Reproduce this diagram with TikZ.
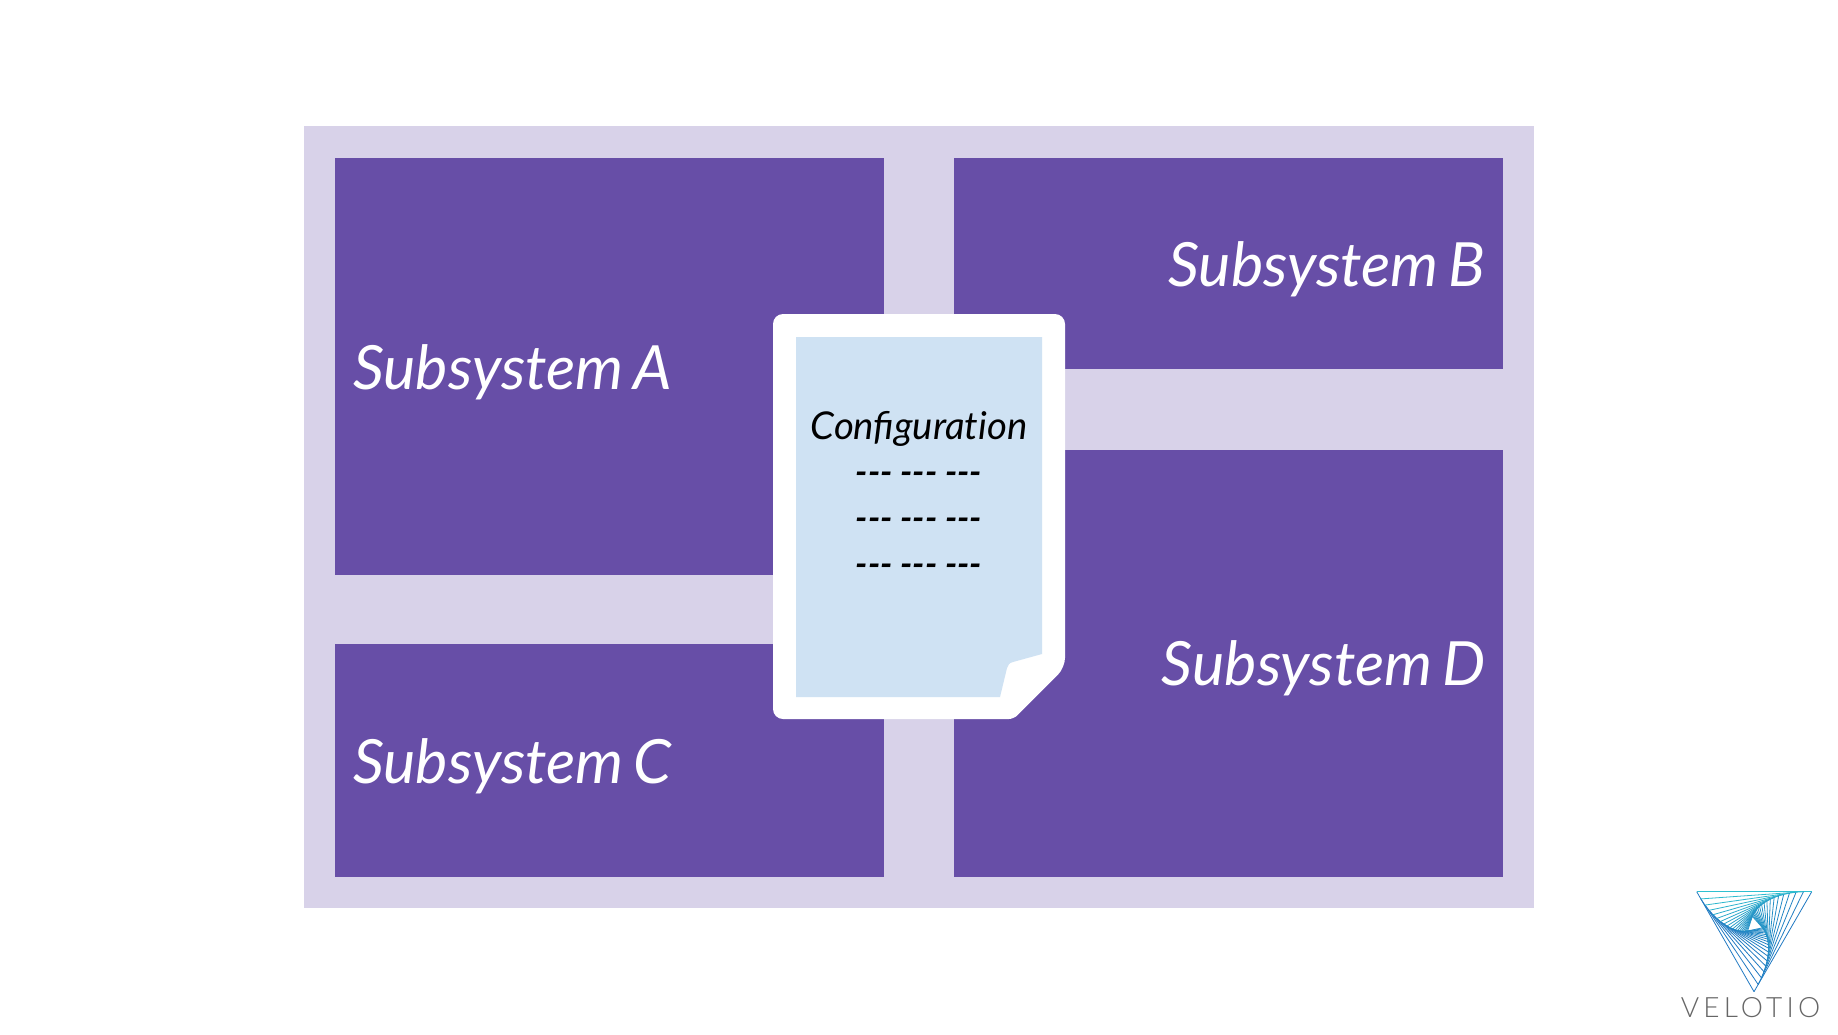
\documentclass[tikz,border=0pt]{standalone}
\usepackage{fontspec}
\setmainfont{Lato}
\newfontfamily\lightf[LetterSpace=15]{Lato Light}
\newfontfamily\subf[WordSpace=0.7]{Lato}
\definecolor{panel}{HTML}{D8D2E9}
\definecolor{sub}{HTML}{674EA7}
\definecolor{sheet}{HTML}{CFE2F3}
\definecolor{logotext}{HTML}{666666}
\definecolor{logotop}{HTML}{2FC0D0}
\definecolor{logobot}{HTML}{1A5CBC}
\tikzset{
  subbox/.style={fill=sub,draw=none},
  sublabel/.style={text=white,anchor=base,inner sep=0pt,font=\subf\fontsize{61}{64}\selectfont\itshape},
  doclabel/.style={text=black,anchor=base,inner sep=0pt,font=\fontsize{38.3}{42}\selectfont\itshape},
  dashlabel/.style={text=black,anchor=base,inner sep=0pt,font=\fontsize{35.5}{38}\selectfont\bfseries\itshape},
}
\newcommand{\logoedge}[4]{%
  \pgfmathsetmacro{\mixv}{max(0,min(100,100*(((#2+#4)/2)-892)/70))}%
  \draw[logobot!\mixv!logotop,line width=0.8pt] (#1,#2) -- (#3,#4);%
}
\begin{document}
\begin{tikzpicture}[x=1pt,y=-1pt]
\useasboundingbox (0,0) rectangle (1838,1034);
\fill[white] (0,0) rectangle (1838,1034);
\fill[panel] (304,126) rectangle (1533.5,907.5);
\fill[subbox] (335,158) rectangle (883.5,574.5);
\fill[subbox] (954,158) rectangle (1503,369);
\fill[subbox] (335,644) rectangle (883.5,876.5);
\fill[subbox] (954,450) rectangle (1503,876.5);
\node[sublabel,anchor=base west] (labA) at (353,389.5) {Subsystem A};
\node[sublabel,anchor=base east] (labB) at (1485.5,286) {Subsystem B};
\node[sublabel,anchor=base west] (labC) at (353,783.5) {Subsystem C};
\node[sublabel,anchor=base east] (labD) at (1485.5,685) {Subsystem D};
% document sheet
\fill[white,rounded corners=10pt] (773,314) -- (1065,314) -- (1065,667.7) [rounded corners=5pt] -- (1013.7,719) [rounded corners=10pt] -- (773,719) -- cycle;
\fill[sheet] (796,337) -- (1042,337) -- (1042,654) -- (1013,662)
  .. controls (1009,663) and (1008,665) .. (1007,668) -- (1000,697) -- (796,697) -- cycle;
\node[doclabel] (cfg) at (919,439) {Configurat\kern0pt ion};
\node[dashlabel] (d1) at (919,484.5) {{-}{-}{-} {-}{-}{-} {-}{-}{-}};
\node[dashlabel] (d2) at (919,530.5) {{-}{-}{-} {-}{-}{-} {-}{-}{-}};
\node[dashlabel] (d3) at (919,576.5) {{-}{-}{-} {-}{-}{-} {-}{-}{-}};
% logo
\def\ax{1696.7}\def\ay{891.7}\def\bx{1754}\def\by{991.7}\def\cx{1811.7}\def\cy{891.7}
\foreach \i in {1,...,19}{%
  \logoedge{\ax}{\ay}{\bx}{\by}\logoedge{\bx}{\by}{\cx}{\cy}\logoedge{\cx}{\cy}{\ax}{\ay}%
  \pgfmathsetmacro{\nax}{\ax+0.072*(\bx-\ax)}\pgfmathsetmacro{\nay}{\ay+0.072*(\by-\ay)}%
  \pgfmathsetmacro{\nbx}{\bx+0.072*(\cx-\bx)}\pgfmathsetmacro{\nby}{\by+0.072*(\cy-\by)}%
  \pgfmathsetmacro{\ncx}{\cx+0.072*(\ax-\cx)}\pgfmathsetmacro{\ncy}{\cy+0.072*(\ay-\cy)}%
  \global\let\ax\nax\global\let\ay\nay\global\let\bx\nbx\global\let\by\nby\global\let\cx\ncx\global\let\cy\ncy
}
\node[text=logotext,anchor=base,inner sep=0pt,font=\fontsize{28}{30}\selectfont\lightf] (logo) at (1750.5,1017) {VELOTIO};
\end{tikzpicture}
\end{document}
